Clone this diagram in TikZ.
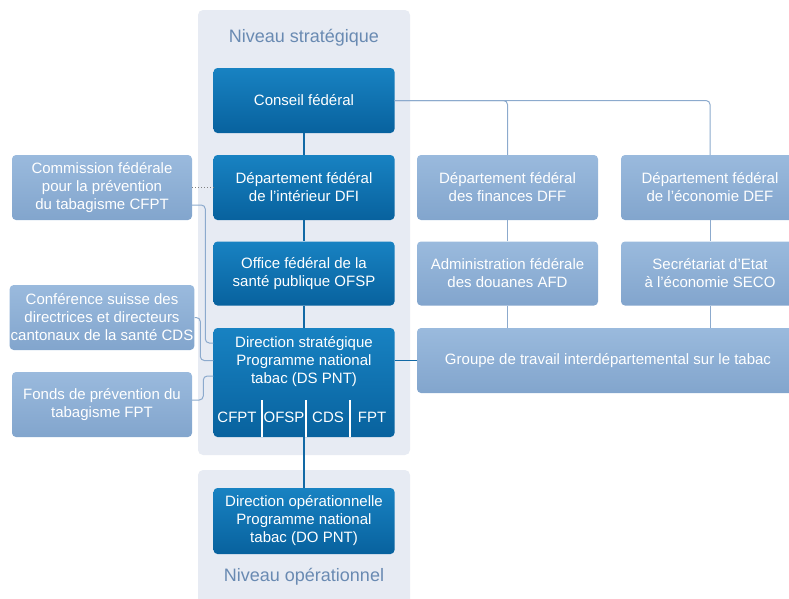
\documentclass[tikz,border=0pt]{standalone}
\usepackage{fontspec}
\setmainfont{Liberation Sans}
\usepackage{tikz}
\definecolor{panelgrey}{RGB}{231, 235, 243}
\definecolor{darktop}{RGB}{24, 130, 194}
\definecolor{darkbottom}{RGB}{8, 98, 158}
\definecolor{lighttop}{RGB}{154, 186, 221}
\definecolor{lightbottom}{RGB}{130, 165, 205}
\definecolor{linkblue}{RGB}{140, 170, 205}
\definecolor{trunkblue}{RGB}{18, 105, 165}
\definecolor{headblue}{RGB}{105, 138, 178}

\begin{document}
\begin{tikzpicture}[
        x=1pt, y=-1pt,
        panel/.style={fill=panelgrey, rounded corners=5pt},
        level/.style={text=headblue, font=\fontsize{18}{21}\selectfont},
        darkbox/.style={rectangle, rounded corners=4pt, top color=darktop, bottom color=darkbottom, text=white, minimum width=181pt, minimum height=65pt, inner sep=1pt, align=center, font=\fontsize{15}{18}\selectfont},
        lightbox/.style={rectangle, rounded corners=4pt, top color=lighttop, bottom color=lightbottom, text=white, minimum width=180pt, minimum height=65pt, inner sep=1pt, align=center, font=\fontsize{15}{18}\selectfont},
        cell/.style={text=white, inner sep=1pt, font=\fontsize{15}{18}\selectfont},
        divider/.style={draw=white, line width=1.2pt},
        trunk/.style={draw=trunkblue, line width=2.5pt},
        link/.style={draw=linkblue, line width=1pt, rounded corners=4pt},
        tie/.style={draw=trunkblue, line width=1.2pt}
    ]
    \useasboundingbox (0,0) rectangle (789,598);

    % Level panels
    \fill[panel] (198,10) rectangle (410,455);
    \fill[panel] (198,470) rectangle (410,615);
    \node[level] (stratlabel) at (304,38) {Niveau stratégique};
    \node[level] (oplabel) at (304,577) {Niveau opérationnel};

    % Main chain
    \node[darkbox] (conseil) at (304,100.5) {Conseil fédéral};
    \node[darkbox] (dfi) at (304,187.5) {Département fédéral\\ de l’intérieur DFI};
    \node[darkbox, minimum height=64pt] (ofsp) at (304,273.5) {Office fédéral de la\\ santé publique OFSP};
    \node[darkbox, minimum height=109pt] (dspnt) at (304,382.5) {};
    \node[cell] (dstext) at (304,362) [align=center] {Direction stratégique\\ Programme national\\ tabac (DS PNT)};
    \node[darkbox, minimum height=66pt] (dopnt) at (304,521) {Direction opérationnelle\\ Programme national\\ tabac (DO PNT)};

    % Members of DS PNT
    \node[cell] (cfptcell) at (237,417) {CFPT};
    \node[cell] (ofspcell) at (284,417) {OFSP};
    \node[cell] (cdscell) at (328,417) {CDS};
    \node[cell] (fptcell) at (372,417) {FPT};
    \foreach \dx in {-42,2,46}
        \draw[divider] ([xshift=\dx pt]dspnt.south) -- ++(0,-37);

    % Partners on the left
    \node[lightbox] (cfpt) at (102,187.5) {Commission fédérale\\ pour la prévention\\ du tabagisme CFPT};
    \node[lightbox] (cds) at (102,317.5) {Conférence suisse des\\ directrices et directeurs\\ cantonaux de la santé CDS};
    \node[lightbox] (fpt) at (102,404.5) {Fonds de prévention du\\ tabagisme FPT};

    % Other departments
    \node[lightbox, minimum width=181pt] (dff) at (507.5,187.5) {Département fédéral\\ des finances DFF};
    \node[lightbox, minimum width=178pt] (def) at (710,187.5) {Département fédéral\\ de l’économie DEF};
    \node[lightbox, minimum width=181pt, minimum height=64pt] (afd) at (507.5,273.5) {Administration fédérale\\ des douanes AFD};
    \node[lightbox, minimum width=178pt, minimum height=64pt] (seco) at (710,273.5) {Secrétariat d’Etat\\ à l’économie SECO};
    \node[lightbox, minimum width=382pt] (groupe) at (608,360.5) {Groupe de travail interdépartemental sur le tabac};

    % Hierarchy
    \draw[trunk] (conseil) -- (dfi);
    \draw[trunk] (dfi) -- (ofsp);
    \draw[trunk] (ofsp) -- (dspnt);
    \draw[trunk] (dspnt) -- (dopnt);

    \draw[link] (conseil.east) -| (dff.north);
    \draw[link] (conseil.east) -| (def.north);
    \draw[link] (dff) -- (afd);
    \draw[link] (def) -- (seco);
    \draw[link] (afd) -- (afd |- groupe.north);
    \draw[link] (seco) -- (seco |- groupe.north);
    \draw[tie] (dspnt.east |- groupe.west) -- (groupe.west);

    % Links of the partners
    \draw[link, dotted, draw=gray] (cfpt) -- (dfi);
    \draw[link] ([yshift=-17.5pt]cfpt.east) -| ([xshift=-8pt,yshift=39.5pt]dspnt.west) -- ([yshift=39.5pt]dspnt.west);
    \draw[link] (cds.east) -| ([xshift=-13pt,yshift=22pt]dspnt.west) -- ([yshift=22pt]dspnt.west);
    \draw[link] ([yshift=4.5pt]fpt.east) -| ([xshift=-10pt,yshift=6.5pt]dspnt.west) -- ([yshift=6.5pt]dspnt.west);

\end{tikzpicture}
\end{document}
